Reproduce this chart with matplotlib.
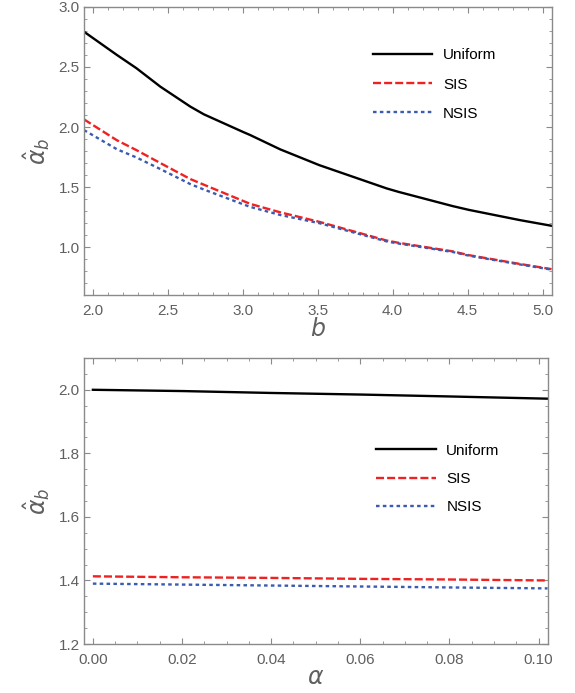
import matplotlib
matplotlib.use("Agg")
import matplotlib.pyplot as plt
from matplotlib.ticker import MultipleLocator

# top panel: alpha_b hat vs b
b_vals = [1.94, 2.16, 2.29, 2.45, 2.65, 2.74, 3.00, 3.05, 3.25, 3.51, 3.96, 4.04, 4.40, 4.51, 4.85, 5.06]
uniform_b = [2.794, 2.600, 2.490, 2.336, 2.170, 2.106, 1.960, 1.933, 1.814, 1.683, 1.489, 1.460, 1.342, 1.310, 1.225, 1.178]
sis_b = [2.064, 1.890, 1.808, 1.700, 1.567, 1.520, 1.386, 1.360, 1.290, 1.211, 1.055, 1.036, 0.965, 0.933, 0.860, 0.817]
nsis_b = [1.975, 1.815, 1.747, 1.650, 1.525, 1.480, 1.358, 1.335, 1.268, 1.200, 1.048, 1.030, 0.960, 0.929, 0.856, 0.813]

# bottom panel: alpha_b hat vs alpha
alpha_vals = [0.0, 0.02, 0.04, 0.06, 0.08, 0.102]
uniform_a = [2.000, 1.996, 1.990, 1.985, 1.979, 1.972]
sis_a = [1.413, 1.410, 1.408, 1.405, 1.403, 1.400]
nsis_a = [1.390, 1.387, 1.384, 1.381, 1.378, 1.375]

labels = ["Uniform", "SIS", "NSIS"]

red = "#ee2222"
blue = "#3a5bb0"
frame = "#8a8a8a"
txt = "#606060"

plt.rcParams['font.family'] = ['Liberation Sans', 'DejaVu Sans']

fig = plt.figure(figsize=(5.75, 6.93), dpi=100)
ax1 = fig.add_axes([0.146, 0.574, 0.814, 0.416])
ax2 = fig.add_axes([0.146, 0.0707, 0.8063, 0.4127])


def style(ax):
    for s in ax.spines.values():
        s.set_color(frame)
        s.set_linewidth(1.0)
    ax.tick_params(which='both', direction='in', top=True, right=True,
                   color=frame, labelcolor=txt, labelsize=11)
    ax.tick_params(which='major', length=4.5, width=0.8)
    ax.tick_params(which='minor', length=2.5, width=0.6)
    ax.tick_params(axis='x', which='major', pad=6.5)
    ax.tick_params(axis='y', which='major', pad=3)


def draw(ax, x, u, s, n):
    ax.plot(x, u, color='black', lw=1.7, label=labels[0])
    ax.plot(x, s, color=red, lw=1.7, dashes=(3.4, 1.3), label=labels[1])
    ax.plot(x, n, color=blue, lw=1.7, dashes=(1.5, 1.4), label=labels[2])


draw(ax1, b_vals, uniform_b, sis_b, nsis_b)
ax1.set_xlim(1.94, 5.063)
ax1.set_ylim(0.6, 3.0)
ax1.xaxis.set_major_locator(MultipleLocator(0.5))
ax1.xaxis.set_minor_locator(MultipleLocator(0.1))
ax1.yaxis.set_major_locator(MultipleLocator(0.5))
ax1.yaxis.set_minor_locator(MultipleLocator(0.1))
ax1.set_yticks([1.0, 1.5, 2.0, 2.5, 3.0])
style(ax1)
ax1.set_xlabel(r'$b$', fontsize=17, color=txt, labelpad=0)
ax1.set_ylabel(r'$\hat{\alpha}_b$', fontsize=17, color=txt, labelpad=5)
ax1.legend(loc='upper left', bbox_to_anchor=(0.617, 0.856), frameon=False,
           fontsize=11, handlelength=3.9, handletextpad=0.7,
           labelspacing=0.99, borderpad=0, borderaxespad=0)

draw(ax2, alpha_vals, uniform_a, sis_a, nsis_a)
ax2.set_xlim(-0.002, 0.102)
ax2.set_ylim(1.2, 2.1)
ax2.xaxis.set_major_locator(MultipleLocator(0.02))
ax2.xaxis.set_minor_locator(MultipleLocator(0.005))
ax2.yaxis.set_major_locator(MultipleLocator(0.2))
ax2.yaxis.set_minor_locator(MultipleLocator(0.05))
ax2.set_xticks([0.0, 0.02, 0.04, 0.06, 0.08, 0.10])
ax2.set_xticklabels(["0.00", "0.02", "0.04", "0.06", "0.08", "0.10"])
ax2.set_yticks([1.2, 1.4, 1.6, 1.8, 2.0])
style(ax2)
ax2.set_xlabel(r'$\alpha$', fontsize=17, color=txt, labelpad=0)
ax2.set_ylabel(r'$\hat{\alpha}_b$', fontsize=17, color=txt, labelpad=5)
ax2.legend(loc='upper left', bbox_to_anchor=(0.63, 0.70), frameon=False,
           fontsize=11, handlelength=3.9, handletextpad=0.7,
           labelspacing=0.93, borderpad=0, borderaxespad=0)

fig.savefig("out.png", dpi=100)
